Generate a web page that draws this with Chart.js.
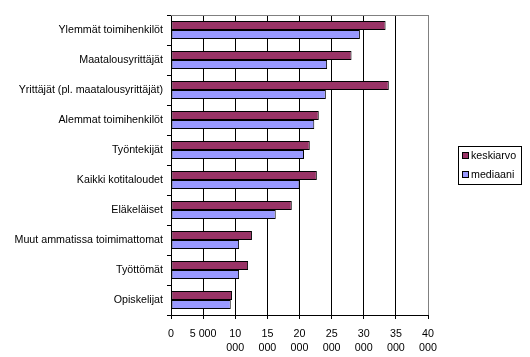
<!DOCTYPE html>
<html>
<head>
<meta charset="utf-8">
<script src="https://cdn.jsdelivr.net/npm/chart.js@4"></script>
<style>
html,body{margin:0;padding:0;background:#fff;}
#wrap{width:530px;height:357px;position:relative;}
</style>
</head>
<body>
<div id="wrap"><canvas id="c" width="530" height="357"></canvas></div>
<script>
const categories = [
  'Ylemmät toimihenkilöt',
  'Maatalousyrittäjät',
  'Yrittäjät (pl. maatalousyrittäjät)',
  'Alemmat toimihenkilöt',
  'Työntekijät',
  'Kaikki kotitaloudet',
  'Eläkeläiset',
  'Muut ammatissa toimimattomat',
  'Työttömät',
  'Opiskelijat'
];
const seriesNames = ['keskiarvo', 'mediaani'];
const keskiarvo = [33400, 28100, 33900, 23000, 21600, 22700, 18800, 12600, 12000, 9500];
const mediaani  = [29400, 24300, 24100, 22300, 20700, 20000, 16300, 10600, 10600, 9300];
const xTickLabels = ['0', '5 000', ['10','000'], ['15','000'], ['20','000'], ['25','000'], ['30','000'], ['35','000'], ['40','000']];
const colors = ['#993366', '#9999FF'];

const FONT = '"Liberation Sans", Arial, sans-serif';
Chart.defaults.font.family = FONT;
Chart.defaults.font.size = 10.7;
Chart.defaults.color = '#000';

const frame = {
  id: 'frame',
  afterDraw(chart) {
    const ctx = chart.ctx, a = chart.chartArea;
    ctx.save();
    ctx.strokeStyle = '#808080';
    ctx.lineWidth = 1;
    ctx.beginPath();
    ctx.moveTo(a.left, a.top + 0.5);
    ctx.lineTo(a.right, a.top + 0.5);
    ctx.stroke();
    // legend
    const lx = 458.5, ly = 146.5, lw = 63, lh = 38;
    ctx.strokeStyle = '#000';
    ctx.strokeRect(lx, ly, lw, lh);
    ctx.font = '10.7px ' + FONT;
    ctx.textBaseline = 'middle';
    seriesNames.forEach((n, i) => {
      const y = 156 + i * 19;
      ctx.fillStyle = colors[i];
      ctx.fillRect(462.5, y - 3.5, 6, 6);
      ctx.strokeStyle = '#000';
      ctx.strokeRect(462.5, y - 3.5, 6, 6);
      ctx.fillStyle = '#000';
      ctx.fillText(n, 471, y);
    });
    ctx.restore();
  }
};

const barStyle = { borderColor: '#000', borderWidth: 1, borderSkipped: false, categoryPercentage: 0.6, barPercentage: 1 };

new Chart(document.getElementById('c'), {
  type: 'bar',
  data: {
    labels: categories,
    datasets: [
      Object.assign({ label: seriesNames[0], data: keskiarvo, backgroundColor: colors[0] }, barStyle),
      Object.assign({ label: seriesNames[1], data: mediaani, backgroundColor: colors[1] }, barStyle)
    ]
  },
  options: {
    indexAxis: 'y',
    responsive: false,
    animation: false,
    layout: { padding: { left: 0, top: 15, right: 102, bottom: 0 } },
    plugins: { legend: { display: false }, tooltip: { enabled: false } },
    scales: {
      x: {
        min: 0, max: 40000,
        ticks: {
          stepSize: 5000,
          maxRotation: 0,
          autoSkip: false,
          padding: 8,
          font: { size: 10.7, lineHeight: 1.32 },
          callback: (v, i) => xTickLabels[i]
        },
        grid: {
          color: (c) => c.index === xTickLabels.length - 1 ? '#808080' : '#000',
          tickColor: '#000',
          tickLength: 4,
          lineWidth: 1
        },
        border: { color: '#000' },
        afterFit: (s) => { s.height = 42; }
      },
      y: {
        ticks: { padding: 4, autoSkip: false, font: { size: 10.7 } },
        grid: { drawOnChartArea: false, offset: true, color: '#000', tickLength: 4 },
        border: { color: '#000' },
        afterFit: (s) => { s.width = 171; }
      }
    }
  },
  plugins: [frame]
});
</script>
</body>
</html>
